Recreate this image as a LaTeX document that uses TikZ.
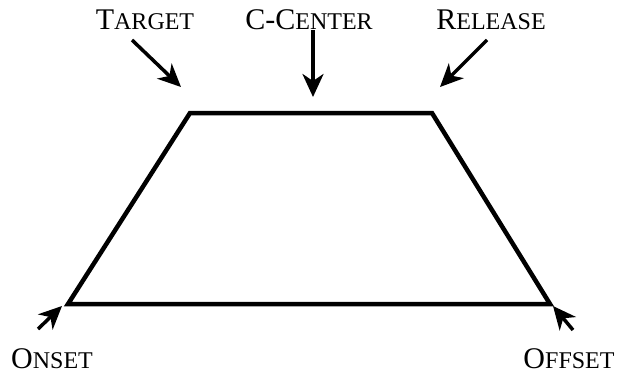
\documentclass[tikz,border=0pt]{standalone}
\usepackage{fontspec}
\setmainfont{Liberation Serif}
\usetikzlibrary{arrows.meta}
\newcommand\mybigletter[1]{{\fontsize{30}{30}\selectfont #1}}
\newcommand\mysmallletter[1]{{\fontsize{24}{24}\selectfont #1}}
\begin{document}
\begin{tikzpicture}[x=1pt,y=-1pt,
  lbl/.style={anchor=base,inner sep=0pt},
  trapline/.style={line width=4.5pt,line join=miter},
  pointer/.style={line width=3.5pt,-{Stealth[length=23pt,width=21pt,inset=7pt]}}]
\useasboundingbox (0,0) rectangle (618,373);
\coordinate (bl) at (68,304);
\coordinate (tl) at (190,113);
\coordinate (tr) at (432,113);
\coordinate (br) at (550,304);
\draw[trapline] (bl) -- (tl) -- (tr) -- (br) -- cycle;
\node[lbl] (target) at (145,29) {\mybigletter{T}\mysmallletter{ARGET}};
\node[lbl] (ccenter) at (309,29) {\mybigletter{C-C}\mysmallletter{ENTER}};
\node[lbl] (release) at (491,29) {\mybigletter{R}\mysmallletter{ELEASE}};
\node[lbl] (onset) at (52,368) {\mybigletter{O}\mysmallletter{NSET}};
\node[lbl] (offset) at (569,368) {\mybigletter{O}\mysmallletter{FFSET}};
\coordinate (t1) at (132,40);  \coordinate (t2) at (181,87);
\coordinate (c1) at (313,30);  \coordinate (c2) at (313,97);
\coordinate (r1) at (487,40);  \coordinate (r2) at (440,87);
\coordinate (o1) at (38,329);  \coordinate (o2) at (62,306);
\coordinate (f1) at (573,330); \coordinate (f2) at (553,306);
\draw[pointer] (t1) -- (t2);
\draw[pointer] (c1) -- (c2);
\draw[pointer] (r1) -- (r2);
\draw[pointer] (o1) -- (o2);
\draw[pointer] (f1) -- (f2);
\end{tikzpicture}
\end{document}
